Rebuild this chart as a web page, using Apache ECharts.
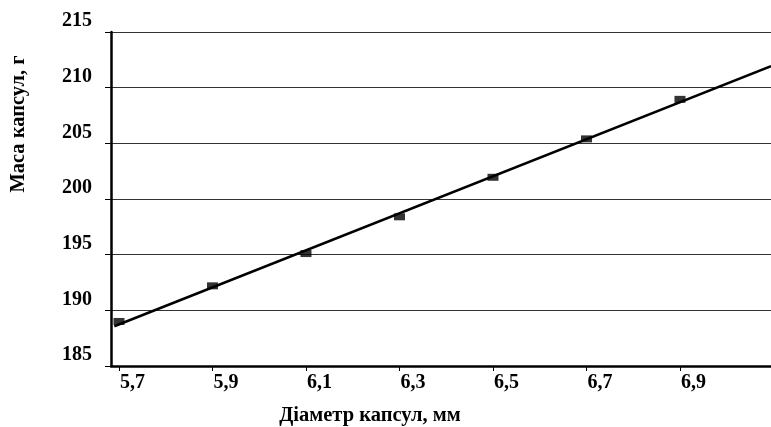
<!DOCTYPE html>
<html>
<head>
<meta charset="utf-8">
<script src="https://cdn.jsdelivr.net/npm/echarts@6/dist/echarts.min.js"></script>
<style>html,body{margin:0;padding:0;background:#fff}#c{width:771px;height:427px}</style>
</head>
<body>
<div id="c"></div>
<script>
const diameters = [5.7, 5.9, 6.1, 6.3, 6.5, 6.7, 6.9];
const masses = [189.0, 192.2, 195.1, 198.4, 201.95, 205.4, 208.95];
const xTicks = [5.7, 5.9, 6.1, 6.3, 6.5, 6.7, 6.9];
const yTicks = [185, 190, 195, 200, 205, 210, 215];
const xTitle = 'Діаметр капсул, мм';
const yTitle = 'Маса капсул, г';

const X_MIN = 5.6829, X_MAX = 7.0947;
// linear trend from the data
const n = diameters.length;
const mx = diameters.reduce((a, b) => a + b, 0) / n;
const my = masses.reduce((a, b) => a + b, 0) / n;
let sxy = 0, sxx = 0;
for (let i = 0; i < n; i++) { sxy += (diameters[i] - mx) * (masses[i] - my); sxx += (diameters[i] - mx) ** 2; }
const slope = sxy / sxx, icpt = my - slope * mx;
const trend = [[diameters[0] - 0.01, icpt + slope * (diameters[0] - 0.01)], [X_MAX, icpt + slope * X_MAX]];

const font = 'Liberation Serif';
const chart = echarts.init(document.getElementById('c'));
chart.setOption({
  animation: false,
  backgroundColor: '#fff',
  grid: { left: 111, right: 0, top: 32, bottom: 61 },
  xAxis: {
    type: 'value', min: X_MIN, max: X_MAX,
    axisLine: { show: true, onZero: false, lineStyle: { color: '#000', width: 2.5 } },
    axisTick: { show: true, length: 5, inside: false, customValues: xTicks, lineStyle: { color: '#000' } },
    axisLabel: {
      customValues: xTicks, formatter: v => String(v).replace('.', ','),
      align: 'left', margin: 7, padding: [0, 0, 0, 1],
      color: '#000', fontFamily: font, fontWeight: 'bold', fontSize: 20
    },
    splitLine: { show: false }
  },
  yAxis: {
    type: 'value', min: yTicks[0], max: yTicks[yTicks.length - 1], interval: 5,
    axisLine: { show: true, lineStyle: { color: '#000', width: 2.5 } },
    axisTick: { show: true, length: 6, lineStyle: { color: '#000' } },
    axisLabel: {
      margin: 19, color: '#000', fontFamily: font, fontWeight: 'bold', fontSize: 20,
      verticalAlign: 'bottom', padding: [0, 0, 1, 0]
    },
    splitLine: { show: true, lineStyle: { color: '#333', width: 1 } }
  },
  graphic: [
    { type: 'text', x: 370, y: 416, style: { text: xTitle, fill: '#000', font: 'bold 20.5px "Liberation Serif"', align: 'center', verticalAlign: 'middle' } },
    { type: 'text', x: 19, y: 124, rotation: Math.PI / 2, style: { text: yTitle, fill: '#000', font: 'bold 20.5px "Liberation Serif"', align: 'center', verticalAlign: 'middle' } }
  ],
  series: [
    { type: 'line', data: trend, showSymbol: false, symbol: 'none', lineStyle: { color: '#000', width: 2.5 }, z: 2 },
    { type: 'scatter', data: diameters.map((d, i) => [d, masses[i]]), symbol: 'rect', symbolSize: [11, 7], itemStyle: { color: '#000' }, z: 3 }
  ]
});
</script>
</body>
</html>
